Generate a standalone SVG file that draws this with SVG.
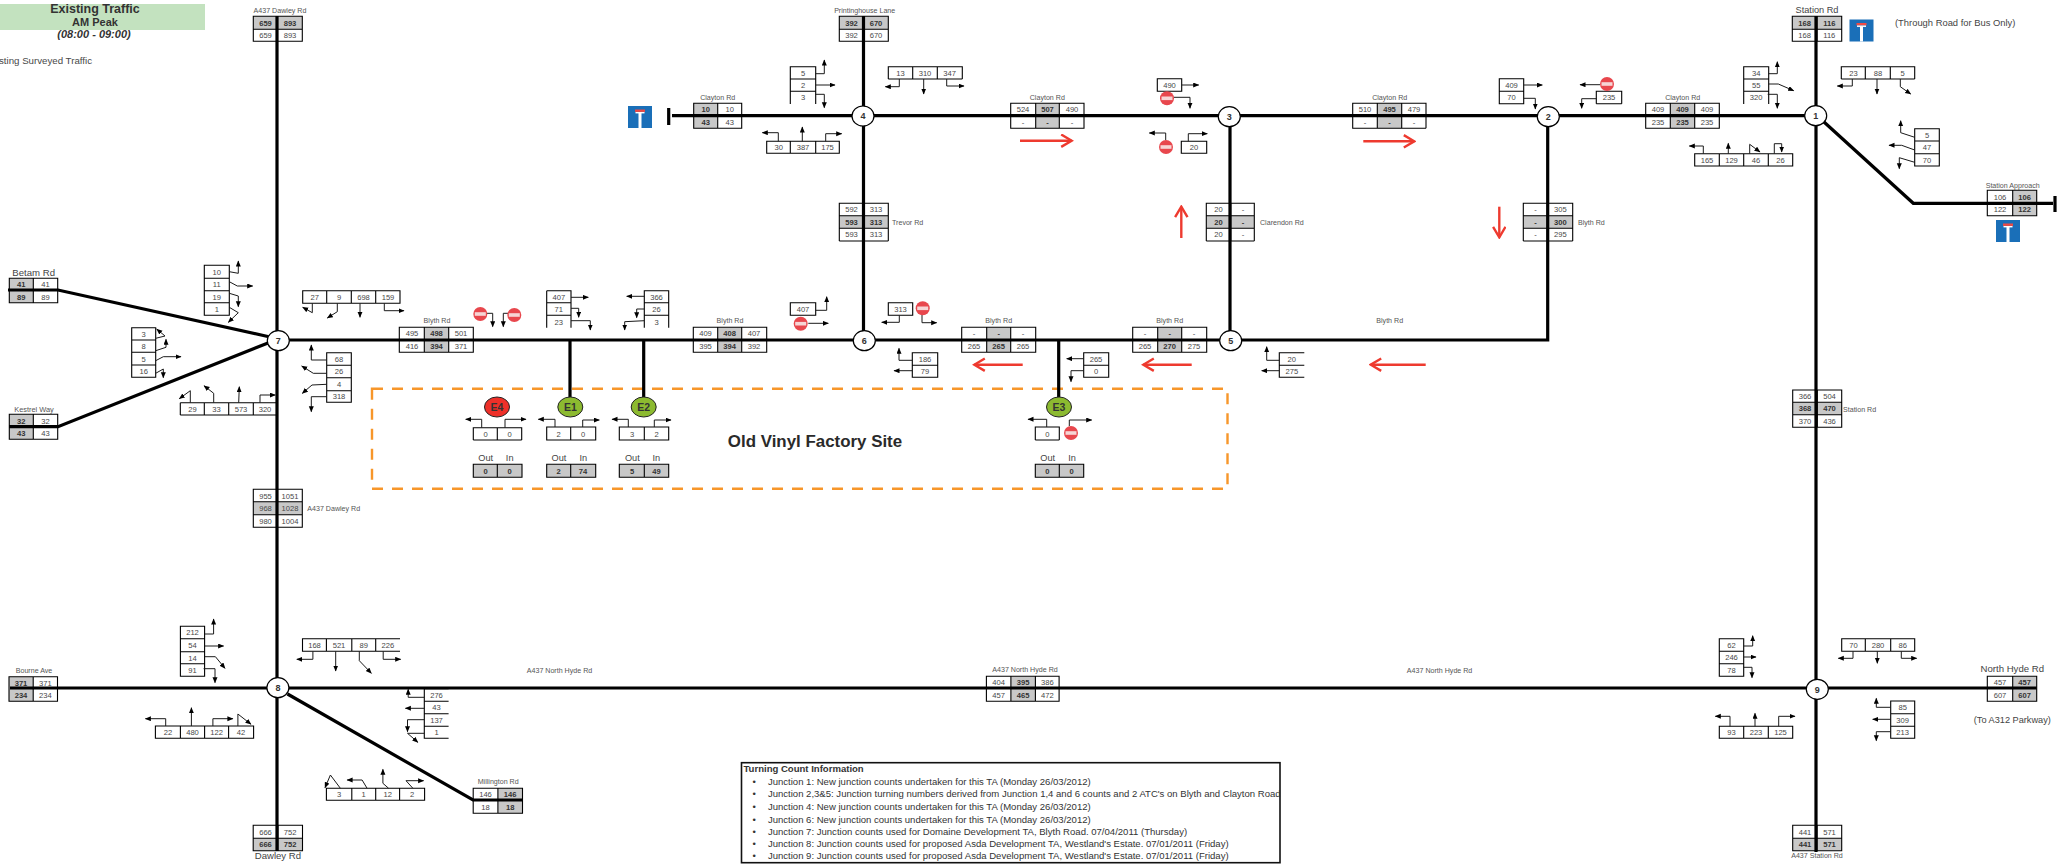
<svg xmlns="http://www.w3.org/2000/svg" width="2069" height="864" viewBox="0 0 2069 864">
<style>
text{font-family:"Liberation Sans",Arial,sans-serif;font-size:7.6px;fill:#484848;text-anchor:middle}
.b{font-weight:700;fill:#333}
.l{font-size:7.1px;fill:#555}
.m{font-size:9.6px;fill:#444}
.s{text-anchor:start}
.y{fill:#c8c8c8}
.k{fill:none;stroke:#000;stroke-width:1.1}
.t{fill:none;stroke:#1a1a1a;stroke-width:1;marker-end:url(#a)}
.r{fill:none;stroke:#000;stroke-width:3.2}
.ra{fill:none;stroke:#ee3a2f;stroke-width:2.4;marker-end:url(#ar)}
.j{fill:#fff;stroke:#000;stroke-width:1.2}
.jt{font-size:9px;font-weight:700;fill:#333}
.e{stroke:#222;stroke-width:1}
.et{font-size:10.5px;font-weight:700;fill:#333}
.i{font-size:9.55px;fill:#333;text-anchor:start}
</style>
<defs>
<marker id="a" markerUnits="userSpaceOnUse" markerWidth="7" markerHeight="6" refX="5.5" refY="2.5" orient="auto"><path d="M0 0L6 2.5L0 5z" fill="#000"/></marker>
<marker id="ar" markerUnits="userSpaceOnUse" markerWidth="14" markerHeight="16" refX="12" refY="7" orient="auto"><path d="M1.5 .8L12 7L1.5 13.2" fill="none" stroke="#ee3a2f" stroke-width="2.4"/></marker>
<g id="ne"><circle r="7" fill="#e8474d"/><rect x="-5.5" y="-1.8" width="11" height="3.6" fill="#f6d5d5"/></g>
<g id="de"><rect width="24" height="22" fill="#1a6fb8"/><rect x="7" y="3.5" width="10" height="2.4" fill="#ee4a44"/><rect x="7.5" y="6" width="9" height="1.4" fill="#fff"/><rect x="10.5" y="7" width="3" height="15" fill="#fff"/></g>
</defs>

<g id="title"><rect y="4" width="205" height="26" fill="#c3e2bf"/><text x="95" y="13" class="b" style="font-size:12.5px">Existing Traffic</text><text x="95" y="26" class="b" style="font-size:11px">AM Peak</text><text x="94" y="38" class="b" style="font-size:11px;font-style:italic">(08:00 - 09:00)</text><text x="-1" y="64" class="s" style="font-size:9.7px">sting Surveyed Traffic</text></g>

<g id="site-box"><rect x="372" y="388.7" width="855.5" height="100" fill="none" stroke="#f7962a" stroke-width="2.4" stroke-dasharray="11 9"/><text x="815" y="446.5" class="b" style="font-size:16.9px;fill:#2a2a2a">Old Vinyl Factory Site</text></g>

<g id="t-a437-top"><text class="l" x="280" y="13">A437 Dawley Rd</text><rect class="y" x="253.3" y="16.3" width="49" height="13"/><path class="k" d="M253.3 16.3H302.3V41.3H253.3ZM253.3 29.3H302.3M277.3 16.3V41.3"/><text class="b" x="265.5" y="25.5">659</text><text class="b" x="290" y="25.5">893</text><text x="265.5" y="38">659</text><text x="290" y="38">893</text></g>
<g id="t-betam"><text class="m" x="33.7" y="275.5">Betam Rd</text><rect class="y" x="9.3" y="278.3" width="24" height="24.4"/><path class="k" d="M9.3 278.3H57.7V302.7H9.3ZM33.3 278.3V302.7"/><text class="b" x="21.3" y="287">41</text><text x="45.5" y="287">41</text><text class="b" x="21.3" y="299.5">89</text><text x="45.5" y="299.5">89</text></g>
<g id="t-kestrel"><text class="l" x="34" y="411.7" style="font-size:7.4px">Kestrel Way</text><rect class="y" x="9.3" y="414.3" width="24" height="25"/><path class="k" d="M9.3 414.3H57.7V439.3H9.3ZM33.3 414.3V439.3"/><text class="b" x="21.3" y="423.5">32</text><text x="45.5" y="423.5">32</text><text class="b" x="21.3" y="435.5">43</text><text x="45.5" y="435.5">43</text></g>

<g id="t-7a"><path class="k" d="M204.3 265.3H229.3V315.3H204.3ZM204.3 278.3H229.3M204.3 290.7H229.3M204.3 302.7H229.3"/><text x="216.8" y="274.5">10</text><text x="216.8" y="287">11</text><text x="216.8" y="299.5">19</text><text x="216.8" y="311.5">1</text></g>
<g id="t-7b"><path class="k" d="M131.7 327.7H155.7V377.3H131.7ZM131.7 340H155.7M131.7 352.3H155.7M131.7 365H155.7"/><text x="143.7" y="336.7">3</text><text x="143.7" y="348.8">8</text><text x="143.7" y="361.5">5</text><text x="143.7" y="373.8">16</text></g>
<g id="t-7c"><path class="k" d="M180.3 402.7H276.7M180.3 415H276.7M180.3 402.7V415M204.3 402.7V415M228.7 402.7V415M253.3 402.7V415"/><text x="192.5" y="411.6">29</text><text x="216.5" y="411.6">33</text><text x="241" y="411.6">573</text><text x="265" y="411.6">320</text></g>
<g id="t-7d"><path class="k" d="M302.7 290.7H400V303.3H302.7ZM326.7 290.7V303.3M351.3 290.7V303.3M375.7 290.7V303.3"/><text x="314.7" y="299.8">27</text><text x="339" y="299.8">9</text><text x="363.5" y="299.8">698</text><text x="388" y="299.8">159</text></g>
<g id="t-7e"><path class="k" d="M326.7 352.7H351.3V402.3H326.7ZM326.7 365.3H351.3M326.7 377.7H351.3M326.7 390.7H351.3"/><text x="339" y="361.7">68</text><text x="339" y="374">26</text><text x="339" y="387">4</text><text x="339" y="399.2">318</text></g>
<g id="t-a437-mid"><text class="l s" x="307.3" y="510.7">A437 Dawley Rd</text><rect class="y" x="253.3" y="501.7" width="49" height="13"/><path class="k" d="M253.3 489.3H302.3V527.3H253.3ZM253.3 501.7H302.3M253.3 514.7H302.3M277.3 489.3V527.3"/><text x="265.5" y="498.6">955</text><text x="290" y="498.6">1051</text><text x="265.5" y="511">968</text><text x="290" y="511">1028</text><text x="265.5" y="524">980</text><text x="290" y="524">1004</text></g>

<g id="t-blyth-a"><text class="l" x="437" y="323.3">Blyth Rd</text><rect class="y" x="424.3" y="327.3" width="24.4" height="25"/><path class="k" d="M399.3 327.3H473.3V352.3H399.3ZM424.3 327.3V352.3M448.7 327.3V352.3"/><text x="412" y="336.3">495</text><text class="b" x="436.5" y="336.3">498</text><text x="461" y="336.3">501</text><text x="412" y="348.8">416</text><text class="b" x="436.5" y="348.8">394</text><text x="461" y="348.8">371</text></g>
<g id="t-e1a"><path class="k" d="M546.7 290.7H571V327.7M546.7 327.7V290.7M546.7 302.7H571M546.7 315.3H571"/><text x="558.8" y="299.8">407</text><text x="558.8" y="312">71</text><text x="558.8" y="324.5">23</text></g>
<g id="t-e2a"><path class="k" d="M644.3 327.7V290.7H668.7V327.7M644.3 302.7H668.7M644.3 315.3H668.7"/><text x="656.5" y="299.8">366</text><text x="656.5" y="312">26</text><text x="656.5" y="324.5">3</text></g>
<g id="t-blyth-b"><text class="l" x="730" y="323.3">Blyth Rd</text><rect class="y" x="717.7" y="327.3" width="24" height="25"/><path class="k" d="M693.3 327.3H766.7V352.3H693.3ZM717.7 327.3V352.3M741.7 327.3V352.3"/><text x="705.5" y="336.3">409</text><text class="b" x="729.7" y="336.3">408</text><text x="754" y="336.3">407</text><text x="705.5" y="348.8">395</text><text class="b" x="729.7" y="348.8">394</text><text x="754" y="348.8">392</text></g>
<g id="t-6a"><path class="k" d="M790.3 302.7H815.7V315.3H790.3Z"/><text x="803" y="311.8">407</text></g>
<g id="t-6b"><path class="k" d="M888.3 302.7H912.7V315.3H888.3Z"/><text x="900.5" y="311.8">313</text></g>
<g id="t-6c"><path class="k" d="M912.3 352.7H937.7V377.3H912.3ZM912.3 365.3H937.7"/><text x="925" y="361.7">186</text><text x="925" y="374">79</text></g>
<g id="t-blyth-c"><text class="l" x="998.7" y="323.3">Blyth Rd</text><rect class="y" x="986.7" y="327.3" width="24" height="25"/><path class="k" d="M961.7 327.3H1035.7V352.3H961.7ZM986.7 327.3V352.3M1010.7 327.3V352.3"/><text x="974" y="336.3">-</text><text class="b" x="998.7" y="336.3">-</text><text x="1023" y="336.3">-</text><text x="974" y="348.8">265</text><text class="b" x="998.7" y="348.8">265</text><text x="1023" y="348.8">265</text></g>
<g id="t-e3a"><path class="k" d="M1083.7 352.7H1108.7V377.3H1083.7ZM1083.7 365.3H1108.7"/><text x="1096" y="361.7">265</text><text x="1096" y="374">0</text></g>
<g id="t-blyth-d"><text class="l" x="1169.7" y="323.3">Blyth Rd</text><rect class="y" x="1157.7" y="327.3" width="24" height="25"/><path class="k" d="M1132.7 327.3H1206.7V352.3H1132.7ZM1157.7 327.3V352.3M1181.7 327.3V352.3"/><text x="1145" y="336.3">-</text><text class="b" x="1169.7" y="336.3">-</text><text x="1194" y="336.3">-</text><text x="1145" y="348.8">265</text><text class="b" x="1169.7" y="348.8">270</text><text x="1194" y="348.8">275</text></g>
<g id="t-5a"><path class="k" d="M1304.3 352.7H1279.3V377.3H1304.3M1279.3 365.3H1304.3"/><text x="1291.8" y="361.7">20</text><text x="1291.8" y="374">275</text></g>
<g id="l-blyth-e"><text class="l" x="1389.7" y="323.3">Blyth Rd</text></g>

<g id="t-e4"><path class="k" d="M473.3 440V427.7H521.7V440M473.3 440H521.7M497.3 427.7V440"/><text x="485.5" y="436.8">0</text><text x="509.5" y="436.8">0</text><text class="m" x="485.7" y="461" style="font-size:9.2px">Out</text><text class="m" x="509.7" y="461" style="font-size:9.2px">In</text><rect class="y" x="473.3" y="464.3" width="48.7" height="13"/><path class="k" d="M473.3 464.3H522V477.3H473.3ZM497.3 464.3V477.3"/><text class="b" x="485.5" y="473.8">0</text><text class="b" x="509.5" y="473.8">0</text></g>
<g id="t-e1"><path class="k" d="M546.7 427H595.7V440H546.7ZM570.7 427V440"/><text x="558.7" y="436.5">2</text><text x="583" y="436.5">0</text><text class="m" x="559" y="461" style="font-size:9.2px">Out</text><text class="m" x="583.3" y="461" style="font-size:9.2px">In</text><rect class="y" x="546.7" y="464.3" width="49" height="13"/><path class="k" d="M546.7 464.3H595.7V477.3H546.7ZM570.7 464.3V477.3"/><text class="b" x="558.7" y="473.8">2</text><text class="b" x="583" y="473.8">74</text></g>
<g id="t-e2"><path class="k" d="M619.3 427H668.7V440H619.3ZM644.3 427V440"/><text x="632" y="436.5">3</text><text x="656.5" y="436.5">2</text><text class="m" x="632.3" y="461" style="font-size:9.2px">Out</text><text class="m" x="656.3" y="461" style="font-size:9.2px">In</text><rect class="y" x="619.3" y="464.3" width="49.4" height="13"/><path class="k" d="M619.3 464.3H668.7V477.3H619.3ZM644.3 464.3V477.3"/><text class="b" x="632" y="473.8">5</text><text class="b" x="656.5" y="473.8">49</text></g>
<g id="t-e3"><path class="k" d="M1035.3 440V427H1059.3V440M1035.3 440H1059.3"/><text x="1047.3" y="436.5">0</text><text class="m" x="1047.7" y="461" style="font-size:9.2px">Out</text><text class="m" x="1072" y="461" style="font-size:9.2px">In</text><rect class="y" x="1035.3" y="464.3" width="48.4" height="13"/><path class="k" d="M1035.3 464.3H1083.7V477.3H1035.3ZM1059.3 464.3V477.3"/><text class="b" x="1047.3" y="473.8">0</text><text class="b" x="1071.5" y="473.8">0</text></g>

<g id="t-clayton-w"><text class="l" x="717.7" y="100">Clayton Rd</text><rect class="y" x="693.7" y="103.3" width="24" height="25"/><path class="k" d="M693.7 103.3H741.7V128.3H693.7ZM717.7 103.3V128.3"/><text class="b" x="705.7" y="112.2">10</text><text x="729.7" y="112.2">10</text><text class="b" x="705.7" y="124.7">43</text><text x="729.7" y="124.7">43</text></g>
<g id="t-printing"><text class="l" x="864.7" y="13">Printinghouse Lane</text><rect class="y" x="839.3" y="16.3" width="49" height="13"/><path class="k" d="M839.3 16.3H888.3V41.3H839.3ZM839.3 29.3H888.3M863.7 16.3V41.3"/><text class="b" x="851.5" y="25.5">392</text><text class="b" x="876" y="25.5">670</text><text x="851.5" y="38">392</text><text x="876" y="38">670</text></g>
<g id="t-trevor"><text class="l s" x="892" y="225">Trevor Rd</text><rect class="y" x="839.3" y="215.7" width="49" height="12.6"/><path class="k" d="M839.3 241V203.3H888.3V241M839.3 241H888.3M839.3 215.7H888.3M839.3 228.3H888.3M863.7 203.3V241"/><text x="851.5" y="212.2">592</text><text x="876" y="212.2">313</text><text class="b" x="851.5" y="224.7">593</text><text class="b" x="876" y="224.7">313</text><text x="851.5" y="237.3">593</text><text x="876" y="237.3">313</text></g>
<g id="t-4a"><path class="k" d="M790.3 104V66.7H815.7V104M790.3 79H815.7M790.3 91.3H815.7"/><text x="803" y="75.8">5</text><text x="803" y="88">2</text><text x="803" y="100.3">3</text></g>
<g id="t-4b"><path class="k" d="M888.3 79V66.7H962.3V79M888.3 79H962.3M912.7 66.7V79M937.3 66.7V79"/><text x="900.5" y="75.8">13</text><text x="925" y="75.8">310</text><text x="949.7" y="75.8">347</text></g>
<g id="t-4c"><path class="k" d="M766.7 141.3H839.3V153.3H766.7ZM790.3 141.3V153.3M815.7 141.3V153.3"/><text x="778.7" y="150">30</text><text x="803" y="150">387</text><text x="827.5" y="150">175</text></g>
<g id="t-clayton-43"><text class="l" x="1047.3" y="100">Clayton Rd</text><rect class="y" x="1035.7" y="103.3" width="23.6" height="25"/><path class="k" d="M1010.7 103.3H1084V128.3H1010.7ZM1035.7 103.3V128.3M1059.3 103.3V128.3"/><text x="1023" y="112.2">524</text><text class="b" x="1047.5" y="112.2">507</text><text x="1072" y="112.2">490</text><text x="1023" y="124.7">-</text><text class="b" x="1047.5" y="124.7">-</text><text x="1072" y="124.7">-</text></g>
<g id="t-3a"><path class="k" d="M1157.3 78.7H1181.7V91.3H1157.3Z"/><text x="1169.5" y="87.8">490</text></g>
<g id="t-3b"><path class="k" d="M1181.3 141.3H1206.7V153.3H1181.3Z"/><text x="1194" y="150">20</text></g>
<g id="t-clarendon"><text class="l s" x="1260" y="225">Clarendon Rd</text><rect class="y" x="1206.3" y="215.7" width="48" height="12.6"/><path class="k" d="M1206.3 241V203.3H1254.3V241M1206.3 241H1254.3M1206.3 215.7H1254.3M1206.3 228.3H1254.3M1230.7 203.3V241"/><text x="1218.5" y="212.2">20</text><text x="1243" y="212.2">-</text><text class="b" x="1218.5" y="224.7">20</text><text class="b" x="1243" y="224.7">-</text><text x="1218.5" y="237.3">20</text><text x="1243" y="237.3">-</text></g>
<g id="t-clayton-32"><text class="l" x="1389.7" y="100">Clayton Rd</text><rect class="y" x="1377.3" y="103.3" width="24.4" height="25"/><path class="k" d="M1426 128.3V103.3H1352.7V128.3H1426M1377.3 103.3V128.3M1401.7 103.3V128.3"/><text x="1365" y="112.2">510</text><text class="b" x="1389.5" y="112.2">495</text><text x="1414" y="112.2">479</text><text x="1365" y="124.7">-</text><text class="b" x="1389.5" y="124.7">-</text><text x="1414" y="124.7">-</text></g>
<g id="t-2a"><path class="k" d="M1499.3 78.7H1523.7V103.7H1499.3ZM1499.3 91.3H1523.7"/><text x="1511.5" y="87.8">409</text><text x="1511.5" y="100">70</text></g>
<g id="t-blyth-2"><text class="l s" x="1578" y="225">Blyth Rd</text><rect class="y" x="1523.3" y="215.7" width="49.4" height="12.6"/><path class="k" d="M1523.3 241V203.3H1572.7V241M1523.3 241H1572.7M1523.3 215.7H1572.7M1523.3 228.3H1572.7M1547.7 203.3V241"/><text x="1535.5" y="212.2">-</text><text x="1560.3" y="212.2">305</text><text class="b" x="1535.5" y="224.7">-</text><text class="b" x="1560.3" y="224.7">300</text><text x="1535.5" y="237.3">-</text><text x="1560.3" y="237.3">295</text></g>
<g id="t-1e"><path class="k" d="M1596.3 103.7V91.3H1621.7V103.7M1596.3 103.7H1621.7"/><text x="1609" y="100.3">235</text></g>
<g id="t-clayton-1"><text class="l" x="1682.7" y="100">Clayton Rd</text><rect class="y" x="1670.3" y="103.3" width="24.4" height="25"/><path class="k" d="M1645.7 103.3H1719.3V128.3H1645.7ZM1670.3 103.3V128.3M1694.7 103.3V128.3"/><text x="1658" y="112.2">409</text><text class="b" x="1682.5" y="112.2">409</text><text x="1707" y="112.2">409</text><text x="1658" y="124.7">235</text><text class="b" x="1682.5" y="124.7">235</text><text x="1707" y="124.7">235</text></g>
<g id="t-1a"><path class="k" d="M1743.7 104V66.7H1768.7V104M1743.7 79H1768.7M1743.7 91.3H1768.7"/><text x="1756.2" y="75.8">34</text><text x="1756.2" y="88">55</text><text x="1756.2" y="100.3">320</text></g>
<g id="t-1b"><path class="k" d="M1841.3 79V66.7H1914.7V79M1841.3 79H1914.7M1865.3 66.7V79M1890.3 66.7V79"/><text x="1853.5" y="75.8">23</text><text x="1878" y="75.8">88</text><text x="1902.5" y="75.8">5</text></g>
<g id="t-1c"><path class="k" d="M1914.7 128.7H1939.3V166H1914.7ZM1914.7 141H1939.3M1914.7 153.7H1939.3"/><text x="1927" y="137.8">5</text><text x="1927" y="150">47</text><text x="1927" y="162.7">70</text></g>
<g id="t-1d"><path class="k" d="M1694.7 153.7H1792.7V166H1694.7ZM1719.3 153.7V166M1743.7 153.7V166M1768.3 153.7V166"/><text x="1707" y="162.8">165</text><text x="1731.5" y="162.8">129</text><text x="1756" y="162.8">46</text><text x="1780.5" y="162.8">26</text></g>
<g id="t-station-top"><text class="m" x="1817" y="13" style="font-size:9.2px">Station Rd</text><rect class="y" x="1792.3" y="16.3" width="49.4" height="13"/><path class="k" d="M1792.3 16.3H1841.7V41.3H1792.3ZM1792.3 29.3H1841.7M1817 16.3V41.3"/><text class="b" x="1804.7" y="25.5">168</text><text class="b" x="1829.3" y="25.5">116</text><text x="1804.7" y="38">168</text><text x="1829.3" y="38">116</text></g>
<g id="t-station-app"><text class="l" x="2012.7" y="188">Station Approach</text><rect class="y" x="2012.7" y="190.3" width="24" height="25.4"/><path class="k" d="M1987.3 190.3H2036.7V215.7H1987.3ZM2012.7 190.3V215.7"/><text x="2000" y="199.8">106</text><text class="b" x="2024.7" y="199.8">106</text><text x="2000" y="211.8">122</text><text class="b" x="2024.7" y="211.8">122</text></g>
<g id="t-station-mid"><text class="l s" x="1843" y="411.7">Station Rd</text><rect class="y" x="1792.7" y="402.3" width="49" height="12.4"/><path class="k" d="M1792.7 390H1841.7V427.3H1792.7ZM1792.7 402.3H1841.7M1792.7 414.7H1841.7M1817.3 390V427.3"/><text x="1805" y="398.9">366</text><text x="1829.5" y="398.9">504</text><text class="b" x="1805" y="411.3">368</text><text class="b" x="1829.5" y="411.3">470</text><text x="1805" y="423.8">370</text><text x="1829.5" y="423.8">436</text></g>

<g id="t-8a"><path class="k" d="M180.4 626.3H204.6V676.3H180.4ZM180.4 638.7H204.6M180.4 651.7H204.6M180.4 663.7H204.6"/><text x="192.5" y="635.3">212</text><text x="192.5" y="648">54</text><text x="192.5" y="660.5">14</text><text x="192.5" y="673">91</text></g>
<g id="t-bourne"><text class="l" x="34" y="672.7">Bourne Ave</text><rect class="y" x="9" y="676.7" width="24.2" height="24.6"/><path class="k" d="M9 676.7H57.5V701.3H9ZM33.2 676.7V701.3"/><text class="b" x="21" y="685.5">371</text><text x="45.4" y="685.5">371</text><text class="b" x="21" y="698">234</text><text x="45.4" y="698">234</text></g>
<g id="t-8b"><path class="k" d="M155.4 726H253.6V738.3H155.4ZM180.4 726V738.3M204.6 726V738.3M228.6 726V738.3"/><text x="168" y="735">22</text><text x="192.5" y="735">480</text><text x="216.6" y="735">122</text><text x="241" y="735">42</text></g>
<g id="t-8c"><path class="k" d="M400 638.7H302.5V651.3H400M326.4 638.7V651.3M351.8 638.7V651.3M375.7 638.7V651.3"/><text x="314.5" y="647.8">168</text><text x="339" y="647.8">521</text><text x="363.7" y="647.8">89</text><text x="387.8" y="647.8">226</text></g>
<g id="t-8d"><path class="k" d="M448.6 688.7H424.3V738.3H448.6M424.3 701.3H448.6M424.3 713.7H448.6M424.3 726.3H448.6"/><text x="436.5" y="697.8">276</text><text x="436.5" y="710">43</text><text x="436.5" y="722.7">137</text><text x="436.5" y="735">1</text></g>
<g id="t-8e"><path class="k" d="M326.4 788.3H424.6V800.3H326.4ZM351.8 788.3V800.3M375.7 788.3V800.3M399.6 788.3V800.3"/><text x="339" y="797">3</text><text x="363.7" y="797">1</text><text x="387.7" y="797">12</text><text x="412" y="797">2</text></g>
<g id="t-millington"><text class="l" x="498.2" y="784.3">Millington Rd</text><rect class="y" x="497.9" y="788.3" width="24.6" height="25"/><path class="k" d="M473.2 788.3H522.5V813.3H473.2ZM497.9 788.3V813.3"/><text x="485.5" y="797">146</text><text class="b" x="510.2" y="797">146</text><text x="485.5" y="809.7">18</text><text class="b" x="510.2" y="809.7">18</text></g>
<g id="t-dawley"><text class="m" x="277.9" y="858.7">Dawley Rd</text><rect class="y" x="253.2" y="838.3" width="49.3" height="12.4"/><path class="k" d="M253.2 825.3H302.5V850.7H253.2ZM253.2 838.3H302.5M277.9 825.3V850.7"/><text x="265.5" y="834.8">666</text><text x="290.2" y="834.8">752</text><text class="b" x="265.5" y="847.3">666</text><text class="b" x="290.2" y="847.3">752</text></g>
<g id="t-north-mid"><text class="l" x="1025" y="672.3">A437 North Hyde Rd</text><rect class="y" x="1010.9" y="676.3" width="24.5" height="25"/><path class="k" d="M986.4 676.3H1059.1V701.3H986.4ZM1010.9 676.3V701.3M1035.4 676.3V701.3"/><text x="998.7" y="685.3">404</text><text class="b" x="1023.2" y="685.3">395</text><text x="1047.3" y="685.3">386</text><text x="998.7" y="698">457</text><text class="b" x="1023.2" y="698">465</text><text x="1047.3" y="698">472</text></g>
<g id="l-north-a"><text class="l" x="559.5" y="672.5">A437 North Hyde Rd</text></g>
<g id="l-north-b"><text class="l" x="1439.6" y="672.5">A437 North Hyde Rd</text></g>
<g id="t-9a"><path class="k" d="M1719.3 638.7H1743.7V676.3H1719.3ZM1719.3 651.3H1743.7M1719.3 663.7H1743.7"/><text x="1731.5" y="647.8">62</text><text x="1731.5" y="660">246</text><text x="1731.5" y="672.7">78</text></g>
<g id="t-9b"><path class="k" d="M1841.7 638.7H1914.7V651.3H1841.7ZM1865.3 638.7V651.3M1890.7 638.7V651.3"/><text x="1853.5" y="647.8">70</text><text x="1878" y="647.8">280</text><text x="1902.7" y="647.8">86</text></g>
<g id="t-north-e"><text class="m" x="2012.3" y="672.3">North Hyde Rd</text><rect class="y" x="2012.7" y="676.3" width="24" height="25"/><path class="k" d="M1987.3 676.3H2036.7V701.3H1987.3ZM2012.7 676.3V701.3"/><text x="2000" y="685.3">457</text><text class="b" x="2024.7" y="685.3">457</text><text x="2000" y="698">607</text><text class="b" x="2024.7" y="698">607</text><text class="m" x="2012.3" y="722.7" style="font-size:9.2px">(To A312 Parkway)</text></g>
<g id="t-9c"><path class="k" d="M1719.3 726.3H1792.7V738.3H1719.3ZM1743.7 726.3V738.3M1768.3 726.3V738.3"/><text x="1731.5" y="735">93</text><text x="1756" y="735">223</text><text x="1780.5" y="735">125</text></g>
<g id="t-9d"><path class="k" d="M1890.7 701H1914.7V738.3H1890.7ZM1890.7 713.7H1914.7M1890.7 726.3H1914.7"/><text x="1902.7" y="710">85</text><text x="1902.7" y="722.7">309</text><text x="1902.7" y="735">213</text></g>
<g id="t-station-bot"><text class="l" x="1817" y="858.3">A437 Station Rd</text><rect class="y" x="1792.7" y="838.3" width="49" height="12.4"/><path class="k" d="M1792.7 825.3H1841.7V850.7H1792.7ZM1792.7 838.3H1841.7M1817 825.3V850.7"/><text x="1805" y="834.8">441</text><text x="1829.5" y="834.8">571</text><text class="b" x="1805" y="847.3">441</text><text class="b" x="1829.5" y="847.3">571</text></g>

<g id="connectors">
<g id="roads">
<path class="r" d="M277 16V851M863.5 16V340M1230 117V340M1816 16V852M277 340H1547.7V117M672 115.7H1816M1824 122L1913.3 203.3H2053M10 688H2036.7M8 290H58L270 337M9 426.7H58L268 343M287.5 694L473 800H522M570 340V397M643.7 340V397M1058.7 340V397"/>
<path class="r" d="M668.7 108V125M2055 196V212"/>
</g>
<g id="turns">
<path class="t" d="M229.3 271.7L238.3 273.3V261"/><path class="t" d="M229.3 281.7L237.3 286H252.7"/><path class="t" d="M229.3 293.3L238.3 296V306.7"/><path class="t" d="M229.3 307.3L238.3 312.7L228.3 322.3"/>
<path class="t" d="M155.7 338.3L165 336L156.7 329"/><path class="t" d="M155.7 350.7L166 347.3V339.3"/><path class="t" d="M155.7 360.7L163.3 356.7H181"/><path class="t" d="M155.7 373.3L163.3 369V377.7"/>
<path class="t" d="M190.3 402.7V390.7L179.3 398.7"/><path class="t" d="M213.7 402.7V393.3L204 385.7"/><path class="t" d="M238.7 402.7L239.3 386.7"/><path class="t" d="M260 402.7V395H275.3"/>
<path class="t" d="M312.3 303.3V312.7L302.7 307.3"/><path class="t" d="M337.3 303.3V311.7L327.3 318"/><path class="t" d="M360 303.3V317.3"/><path class="t" d="M384.3 303.3V310.7H404"/>
<path class="t" d="M326.7 360H311.3V345"/><path class="t" d="M326.7 373.3H313.3L301.7 366"/><path class="t" d="M326.7 384.3L312 385L302.3 393.3"/><path class="t" d="M326.7 396.7H311.3V411.7"/>
<path class="t" d="M487 313.3H492.7V326.7"/><path class="t" d="M509 313.3H503.3V326.7"/>
<path class="t" d="M571 297.3H588.3"/><path class="t" d="M571 308.3H578.7V317.3"/><path class="t" d="M571 320.7H590.3V330"/>
<path class="t" d="M644.3 296.3H626.7"/><path class="t" d="M644.3 309H636.7V317.7"/><path class="t" d="M644.3 320.7L624.7 321.7V330"/>
<path class="t" d="M815.7 310.3H826.7V296.7"/><path class="t" d="M808.3 323.3H828.3"/><path class="t" d="M899.3 315.3V322.3H881.7"/><path class="t" d="M922 315V322.7H936.7"/>
<path class="t" d="M912.3 360.3H899V348.3"/><path class="t" d="M912.3 370.7H894"/>
<path class="t" d="M1083.7 358.7H1066.7"/><path class="t" d="M1083.7 370.7H1071V381.7"/>
<path class="t" d="M1279.3 360.3H1266.7V346.7"/><path class="t" d="M1279.3 370.7H1261.7"/>
<path class="t" d="M481.7 427.7V419.3H465.7"/><path class="t" d="M505 427.7V419.3H526"/>
<path class="t" d="M555 427V419.3H538.3"/><path class="t" d="M582.7 427V420H599.3"/>
<path class="t" d="M628.3 427V419.3H612"/><path class="t" d="M654.3 427V420H671"/>
<path class="t" d="M1046.7 427V419.3H1028"/><path class="t" d="M1069.3 426V420H1091.7"/>
<path class="t" d="M815.7 73.7H824.3V60"/><path class="t" d="M815.7 85H835"/><path class="t" d="M815 94.3H824.3V107.7"/>
<path class="t" d="M899.3 79V86.7H885.3"/><path class="t" d="M923.7 79V94"/><path class="t" d="M946.7 79V86H964"/>
<path class="t" d="M778.3 141.3V132.7H762.3"/><path class="t" d="M802.3 141.3V127"/><path class="t" d="M825.7 141.3V133.7H841.7"/>
<path class="t" d="M1181.7 85H1198.7"/><path class="t" d="M1174 97.3H1190V108.3"/><path class="t" d="M1165.7 140V133H1149.3"/><path class="t" d="M1188.3 141.3V133.7H1207.3"/>
<path class="t" d="M1523.7 85H1542.3"/><path class="t" d="M1523.7 98.3H1535.3V109"/>
<path class="t" d="M1600 84.7H1580"/><path class="t" d="M1596.3 98.7H1581.7V108.3"/>
<path class="t" d="M1768.7 73.7H1777.3V61.7"/><path class="t" d="M1768.7 84H1778.3L1793.7 90.7"/><path class="t" d="M1767.7 94.3H1777.3V108.3"/>
<path class="t" d="M1852.3 79V86H1837.3"/><path class="t" d="M1877 79V94"/><path class="t" d="M1900.3 79V86.7L1910.7 94"/>
<path class="t" d="M1914.7 137.3L1900.7 132.7V120.7"/><path class="t" d="M1914.7 150L1901.7 145.3H1889"/><path class="t" d="M1914.7 162.3L1899.3 157.7V168.7"/>
<path class="t" d="M1703.3 153.7V146H1689.3"/><path class="t" d="M1728.3 153.7V143.3"/><path class="t" d="M1749.7 153.7V144.3L1760 152"/><path class="t" d="M1774.3 153.7V143.7H1781.7V152"/>
<path class="t" d="M204.6 634H213.6V619"/><path class="t" d="M204.6 646H223.6"/><path class="t" d="M204.6 656.7H215.4L225 668.3"/><path class="t" d="M203.6 668.7H215V682.7"/>
<path class="t" d="M165.7 726V718.7H145.4"/><path class="t" d="M191.4 726V707.7"/><path class="t" d="M212.9 726V718.7H232.9"/><path class="t" d="M237.9 726V714L251 724.3"/>
<path class="t" d="M312.9 651.3V659.3H296.8"/><path class="t" d="M335.7 651.3V671"/><path class="t" d="M359.3 651.3V660.7L371.4 673.3"/><path class="t" d="M383.2 651.3V659.3H400.7"/>
<path class="t" d="M424.3 697.3H408.2V689.3"/><path class="t" d="M424.3 708.3H405.4"/><path class="t" d="M424.3 719.7H407.5V731.7"/><path class="t" d="M424.3 733.3H407.5L417.9 742.3"/>
<path class="t" d="M340.4 788.3L330.4 775L325 787.7"/><path class="t" d="M367.1 788.3L362.1 780H347.1"/><path class="t" d="M388.6 788.3L382.9 783.3V769.3"/><path class="t" d="M412.9 788.3L406 780.7H423.6"/>
<path class="t" d="M1743.7 646H1752.7V635.7"/><path class="t" d="M1743.7 657H1756"/><path class="t" d="M1743.7 667.3H1752V677.7"/>
<path class="t" d="M1853 651.3V658.3H1838.3"/><path class="t" d="M1877.3 651.3V663.3"/><path class="t" d="M1901.3 651.3V658.3H1916.7"/>
<path class="t" d="M1730 726.3V716.3H1715.3"/><path class="t" d="M1755 726.3V713.3"/><path class="t" d="M1778.7 726.3V716.3H1795"/>
<path class="t" d="M1890.7 707.3H1876.3V698.3"/><path class="t" d="M1890.7 719.3H1872.7"/><path class="t" d="M1890.7 731.7H1876.3V740.7"/>
</g>
<g id="flow">
<path class="ra" d="M1020 140.7H1071.7"/><path class="ra" d="M1363.3 141.3H1414.3"/><path class="ra" d="M1181.3 238V206.7"/><path class="ra" d="M1499.3 206.7V237.3"/><path class="ra" d="M1022.7 364.7H974.3"/><path class="ra" d="M1191.7 364.7H1143.3"/><path class="ra" d="M1425.7 364.7H1370.7"/>
</g>
</g>

<g id="signs">
<use href="#ne" x="480.3" y="314"/><use href="#ne" x="514.3" y="315"/><use href="#ne" x="800.7" y="323.7"/><use href="#ne" x="922.7" y="308.3"/><use href="#ne" x="1071" y="433"/><use href="#ne" x="1167" y="98.3"/><use href="#ne" x="1166" y="147"/><use href="#ne" x="1607" y="84"/>
<use href="#de" x="628" y="106"/><use href="#de" x="1849.5" y="19.5"/><use href="#de" x="1996" y="220"/>
<text x="1895" y="25.5" class="m s" style="font-size:9.4px">(Through Road for Bus Only)</text>
</g>

<g id="j1"><ellipse class="j" cx="1815.7" cy="115.7" rx="11" ry="10"/><text class="jt" x="1815.7" y="119">1</text></g>
<g id="j2"><ellipse class="j" cx="1548.3" cy="116.7" rx="11" ry="10"/><text class="jt" x="1548.3" y="120">2</text></g>
<g id="j3"><ellipse class="j" cx="1229.3" cy="116.7" rx="11" ry="10"/><text class="jt" x="1229.3" y="120">3</text></g>
<g id="j4"><ellipse class="j" cx="863" cy="116" rx="11" ry="10"/><text class="jt" x="863" y="119.3">4</text></g>
<g id="j5"><ellipse class="j" cx="1230.7" cy="340.7" rx="11" ry="10"/><text class="jt" x="1230.7" y="344">5</text></g>
<g id="j6"><ellipse class="j" cx="864.3" cy="340.7" rx="11" ry="10"/><text class="jt" x="864.3" y="344">6</text></g>
<g id="j7"><ellipse class="j" cx="278.3" cy="340.7" rx="11" ry="10"/><text class="jt" x="278.3" y="344">7</text></g>
<g id="j8"><ellipse class="j" cx="277.9" cy="687.7" rx="11" ry="10"/><text class="jt" x="277.9" y="691">8</text></g>
<g id="j9"><ellipse class="j" cx="1817.3" cy="689.3" rx="11" ry="10"/><text class="jt" x="1817.3" y="692.6">9</text></g>
<g id="e1"><ellipse class="e" cx="570.3" cy="407" rx="12.5" ry="10" fill="#8cba30"/><text class="et" x="570.3" y="411">E1</text></g>
<g id="e2"><ellipse class="e" cx="643.7" cy="407" rx="12.5" ry="10" fill="#8cba30"/><text class="et" x="643.7" y="411">E2</text></g>
<g id="e3"><ellipse class="e" cx="1059" cy="407" rx="12.5" ry="10" fill="#8cba30"/><text class="et" x="1059" y="411">E3</text></g>
<g id="e4"><ellipse class="e" cx="497" cy="407" rx="12.5" ry="10" fill="#ee3029"/><text class="et" x="497" y="411">E4</text></g>

<g id="info"><rect x="741.5" y="762.7" width="538.5" height="100" fill="none" stroke="#111" stroke-width="1.6"/>
<text class="i b" x="743.5" y="771.7">Turning Count Information</text>
<text class="i" x="752.5" y="785">•</text><text class="i" x="767.9" y="785">Junction 1: New junction counts undertaken for this TA (Monday 26/03/2012)</text>
<text class="i" x="752.5" y="797.3">•</text><text class="i" x="767.9" y="797.3">Junction 2,3&amp;5: Junction turning numbers derived from Junction 1,4 and 6 counts and 2 ATC's on Blyth and Clayton Road</text>
<text class="i" x="752.5" y="810">•</text><text class="i" x="767.9" y="810">Junction 4: New junction counts undertaken for this TA (Monday 26/03/2012)</text>
<text class="i" x="752.5" y="822.7">•</text><text class="i" x="767.9" y="822.7">Junction 6: New junction counts undertaken for this TA (Monday 26/03/2012)</text>
<text class="i" x="752.5" y="835">•</text><text class="i" x="767.9" y="835">Junction 7: Junction counts used for Domaine Development TA, Blyth Road. 07/04/2011 (Thursday)</text>
<text class="i" x="752.5" y="847">•</text><text class="i" x="767.9" y="847">Junction 8: Junction counts used for proposed Asda Development TA, Westland's Estate. 07/01/2011 (Friday)</text>
<text class="i" x="752.5" y="859">•</text><text class="i" x="767.9" y="859">Junction 9: Junction counts used for proposed Asda Development TA, Westland's Estate. 07/01/2011 (Friday)</text>
</g>
</svg>
